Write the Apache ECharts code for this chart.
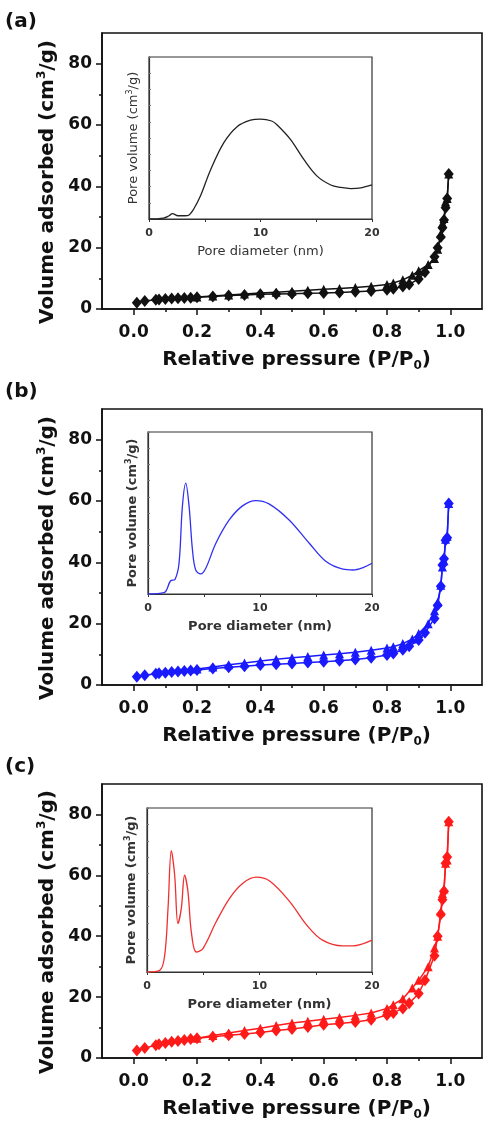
<!DOCTYPE html>
<html>
<head>
<meta charset="utf-8">
<script src="https://cdn.jsdelivr.net/npm/echarts@6/dist/echarts.min.js"></script>
<style>
html,body{margin:0;padding:0;background:#fff;}
#main{width:491px;height:1122px;}
</style>
</head>
<body>
<div id="main"></div>
<script>
// tick positions
var pressureTicks = [0, 0.2, 0.4, 0.6, 0.8, 1.0];
var pressureMinor = [0.1, 0.3, 0.5, 0.7, 0.9];
var volumeTicks = [0, 20, 40, 60, 80];
var volumeMinor = [10, 30, 50, 70];
var poreLabels = [0, 10, 20];
var poreTicks = [0, 5, 10, 15, 20];

// isotherms: adsorption branch
var adsP = [0.01, 0.035, 0.07, 0.08, 0.1, 0.12, 0.14, 0.16, 0.18, 0.2, 0.25, 0.3, 0.35, 0.4, 0.45, 0.5, 0.55, 0.6, 0.65, 0.7, 0.75, 0.8, 0.82, 0.85, 0.87, 0.9, 0.92, 0.95, 0.96, 0.97, 0.975, 0.98, 0.985, 0.99, 0.995];
var adsA = [2.0, 2.6, 3.0, 3.1, 3.3, 3.4, 3.5, 3.6, 3.7, 3.8, 4.1, 4.4, 4.6, 4.8, 4.9, 5.0, 5.1, 5.2, 5.4, 5.6, 5.9, 6.3, 6.6, 7.3, 8.0, 9.8, 12.0, 17.0, 20.0, 23.5, 26.5, 29.0, 33.0, 36.0, 44.0];
var adsB = [2.7, 3.2, 3.7, 3.8, 4.0, 4.2, 4.4, 4.6, 4.7, 4.9, 5.4, 5.8, 6.1, 6.5, 6.8, 7.0, 7.3, 7.6, 7.9, 8.3, 8.9, 9.8, 10.3, 11.5, 12.6, 14.7, 17.0, 21.7, 26.0, 32.2, 39.1, 41.2, 47.2, 48.0, 59.2];
var adsC = [2.5, 3.3, 4.2, 4.5, 4.9, 5.3, 5.6, 5.9, 6.2, 6.5, 7.0, 7.5, 7.9, 8.4, 9.0, 9.5, 10.2, 10.9, 11.3, 11.8, 12.6, 14.1, 14.8, 16.3, 18.0, 21.2, 25.5, 33.6, 40.0, 47.2, 52.0, 54.8, 64.0, 66.0, 77.6];

// desorption branch
var desP = [0.995, 0.99, 0.985, 0.98, 0.975, 0.97, 0.96, 0.95, 0.93, 0.9, 0.88, 0.85, 0.82, 0.8, 0.75, 0.7, 0.65, 0.6, 0.55, 0.5, 0.45, 0.4, 0.35, 0.3, 0.25, 0.2];
var desA = [44.0, 36.0, 35.0, 29.5, 28.0, 24.5, 19.5, 16.5, 14.5, 12.5, 11.0, 9.5, 8.5, 8.0, 7.4, 7.0, 6.7, 6.4, 6.1, 5.8, 5.5, 5.2, 4.9, 4.6, 4.2, 3.9];
var desB = [59.2, 48.5, 47.5, 40.5, 38.5, 32.5, 27.0, 24.2, 20.0, 16.8, 15.0, 13.5, 12.5, 12.1, 11.3, 10.7, 10.2, 9.8, 9.3, 8.9, 8.4, 7.8, 7.2, 6.6, 5.9, 5.2];
var desC = [77.6, 65.0, 64.0, 55.5, 54.0, 48.0, 40.0, 36.1, 30.0, 25.5, 23.0, 19.5, 17.5, 16.3, 14.8, 14.0, 13.3, 12.7, 12.1, 11.5, 10.7, 9.8, 9.0, 8.2, 7.4, 6.5];

// pore size distributions (insets, arbitrary units)
var poreDA = [0, 1.3, 1.8, 2.1, 2.6, 3.2, 3.6, 4.0, 4.6, 5.5, 6.7, 7.9, 9.1, 10.0, 11.0, 11.5, 12.7, 13.9, 15.1, 16.3, 17.2, 18.1, 19.0, 20];
var poreVA = [0, 0.006, 0.02, 0.033, 0.02, 0.02, 0.025, 0.06, 0.14, 0.30, 0.47, 0.57, 0.61, 0.617, 0.605, 0.58, 0.49, 0.366, 0.263, 0.21, 0.195, 0.188, 0.192, 0.21];
var poreDB = [0, 1.43, 2.02, 2.41, 2.77, 3.07, 3.37, 3.67, 3.97, 4.26, 4.71, 5.16, 6.06, 7.25, 8.44, 9.63, 10.8, 12.6, 14.4, 15.9, 17.4, 18.3, 19.2, 20];
var poreVB = [0, 0.008, 0.082, 0.09, 0.19, 0.54, 0.685, 0.54, 0.272, 0.148, 0.124, 0.159, 0.313, 0.457, 0.544, 0.577, 0.556, 0.457, 0.313, 0.2, 0.153, 0.148, 0.163, 0.19];
var poreDC = [0, 1.13, 1.57, 1.87, 2.16, 2.46, 2.75, 3.05, 3.34, 3.64, 3.94, 4.38, 4.97, 6.15, 7.34, 8.52, 9.7, 10.9, 12.7, 14.2, 15.6, 17.4, 18.3, 20];
var poreVC = [0, 0.01, 0.10, 0.39, 0.74, 0.59, 0.296, 0.388, 0.59, 0.49, 0.245, 0.122, 0.143, 0.306, 0.449, 0.541, 0.578, 0.555, 0.428, 0.286, 0.194, 0.159, 0.159, 0.194];

var colors = ['#111111', '#1a1aff', '#ff1a1a'];
var insetColors = ['#222222', '#3030f0', '#f03030'];
var mainTops = [33, 409, 784];
var insetBoxes = [[149, 57, 223, 162], [148, 432, 224, 162], [147, 808, 225, 164]];
var panelNames = ['(a)', '(b)', '(c)'];
var panelTops = [12, 382, 757];

function zip(xs, ys) {
    var out = [];
    for (var i = 0; i < xs.length; i++) out.push([xs[i], ys[i]]);
    return out;
}

var FONT = 'DejaVu Sans';
var richMain = {
    n: {fontFamily: FONT, fontSize: 20, fontWeight: 'bold', color: '#111', lineHeight: 24},
    sup: {fontFamily: FONT, fontSize: 12, fontWeight: 'bold', color: '#111', lineHeight: 12, verticalAlign: 'top'},
    sub: {fontFamily: FONT, fontSize: 12, fontWeight: 'bold', color: '#111', lineHeight: 12, verticalAlign: 'bottom'}
};
function richInset(bold) {
    return {
        n: {fontFamily: FONT, fontSize: 13, fontWeight: bold ? 'bold' : 'normal', color: '#333', lineHeight: 16},
        sup: {fontFamily: FONT, fontSize: 8, fontWeight: bold ? 'bold' : 'normal', color: '#333', lineHeight: 8, verticalAlign: 'top'}
    };
}

var grids = [], xAxes = [], yAxes = [], series = [], graphics = [];

// main frames
for (var i = 0; i < 3; i++) {
    grids.push({left: 102, top: mainTops[i], width: 380, height: 276,
        show: true, borderColor: '#111', borderWidth: 1.6, backgroundColor: 'transparent'});
    xAxes.push({
        gridIndex: i, type: 'value', min: -0.1, max: 1.1, position: 'bottom',
        axisLine: {show: true, onZero: false, lineStyle: {color: '#111', width: 1.6}},
        axisTick: {show: true, customValues: pressureTicks, length: 6, lineStyle: {color: '#111', width: 1.5}},
        axisLabel: {customValues: pressureTicks, fontFamily: FONT, fontSize: 17, fontWeight: 'bold', color: '#111', margin: 15,
            formatter: function (v) { return v.toFixed(1); }},
        splitLine: {show: false},
        name: '{n|Relative pressure (P/P}{sub|0}{n|)}',
        nameLocation: 'middle', nameGap: 39,
        nameTextStyle: {rich: richMain, padding: [0, 0, 0, 9]}
    });
    yAxes.push({
        gridIndex: i, type: 'value', min: 0, max: 90,
        axisLine: {show: true, onZero: false, lineStyle: {color: '#111', width: 1.6}},
        axisTick: {show: true, customValues: volumeTicks, length: 6, lineStyle: {color: '#111', width: 1.5}},
        axisLabel: {customValues: volumeTicks, fontFamily: FONT, fontSize: 17, fontWeight: 'bold', color: '#111', margin: 10},
        splitLine: {show: false},
        name: '{n|Volume adsorbed (cm}{sup|3}{n|/g)}',
        nameLocation: 'middle', nameGap: 41,
        nameTextStyle: {rich: richMain, padding: [0, 22, 0, 0]}
    });
}

// inset frames
for (var i = 0; i < 3; i++) {
    var b = insetBoxes[i];
    grids.push({left: b[0], top: b[1], width: b[2], height: b[3],
        show: true, borderColor: '#333', borderWidth: 1.2, backgroundColor: 'transparent'});
    xAxes.push({
        gridIndex: 3 + i, type: 'value', min: 0, max: 20,
        axisLine: {show: true, onZero: false, lineStyle: {color: '#333', width: 1.2}},
        axisTick: {show: true, customValues: poreTicks, length: 3, lineStyle: {color: '#333'}},
        axisLabel: {customValues: poreLabels, fontFamily: FONT, fontSize: 11, fontWeight: 'bold', color: '#333', margin: 9},
        splitLine: {show: false},
        name: 'Pore diameter (nm)',
        nameLocation: 'middle', nameGap: 26,
        nameTextStyle: {fontFamily: FONT, fontSize: 13, fontWeight: i === 0 ? 'normal' : 'bold', color: '#333'}
    });
    yAxes.push({
        gridIndex: 3 + i, type: 'value', min: 0, max: 1, interval: 0.1,
        axisLine: {show: true, onZero: false, lineStyle: {color: '#333', width: 1.2}},
        axisTick: {show: true, inside: true, length: 2, lineStyle: {color: '#777'}},
        axisLabel: {show: false},
        splitLine: {show: false},
        name: '{n|Pore volume (cm}{sup|3}{n|/g)}',
        nameLocation: 'middle', nameGap: 7,
        nameTextStyle: {rich: richInset(i !== 0)}
    });
}

// minor ticks on the main frames
for (var i = 0; i < 3; i++) {
    xAxes.push({
        gridIndex: i, type: 'value', min: -0.1, max: 1.1, position: 'bottom',
        axisLine: {show: false, onZero: false}, axisLabel: {show: false}, splitLine: {show: false},
        axisTick: {show: true, customValues: pressureMinor, length: 3, lineStyle: {color: '#111', width: 1.5}}
    });
    yAxes.push({
        gridIndex: i, type: 'value', min: 0, max: 90, position: 'left',
        axisLine: {show: false, onZero: false}, axisLabel: {show: false}, splitLine: {show: false},
        axisTick: {show: true, customValues: volumeMinor, length: 3, lineStyle: {color: '#111', width: 1.5}}
    });
}

var adsSets = [adsA, adsB, adsC];
var desSets = [desA, desB, desC];
var poreD = [poreDA, poreDB, poreDC];
var poreV = [poreVA, poreVB, poreVC];

for (var i = 0; i < 3; i++) {
    series.push({
        name: 'adsorption', type: 'line', xAxisIndex: i, yAxisIndex: i,
        data: zip(adsP, adsSets[i]),
        symbol: 'diamond', symbolSize: [10, 12], showAllSymbol: true,
        lineStyle: {color: colors[i], width: 1.5},
        itemStyle: {color: colors[i]},
        animation: false
    });
    series.push({
        name: 'desorption', type: 'line', xAxisIndex: i, yAxisIndex: i,
        data: zip(desP, desSets[i]),
        symbol: 'triangle', symbolSize: 9, showAllSymbol: true,
        lineStyle: {color: colors[i], width: 1.5},
        itemStyle: {color: colors[i]},
        animation: false
    });
    series.push({
        name: 'pore size', type: 'line', xAxisIndex: 3 + i, yAxisIndex: 3 + i,
        data: zip(poreD[i], poreV[i]),
        symbol: 'none', smooth: 0.35,
        lineStyle: {color: insetColors[i], width: 1.3},
        animation: false
    });
    graphics.push({
        type: 'text', left: 5, top: panelTops[i],
        style: {text: panelNames[i], font: 'bold 20px "DejaVu Sans"', fill: '#111'}
    });
}

var chart = echarts.init(document.getElementById('main'));
chart.setOption({
    animation: false,
    backgroundColor: '#fff',
    grid: grids,
    xAxis: xAxes,
    yAxis: yAxes,
    series: series,
    graphic: graphics
});
</script>
</body>
</html>
